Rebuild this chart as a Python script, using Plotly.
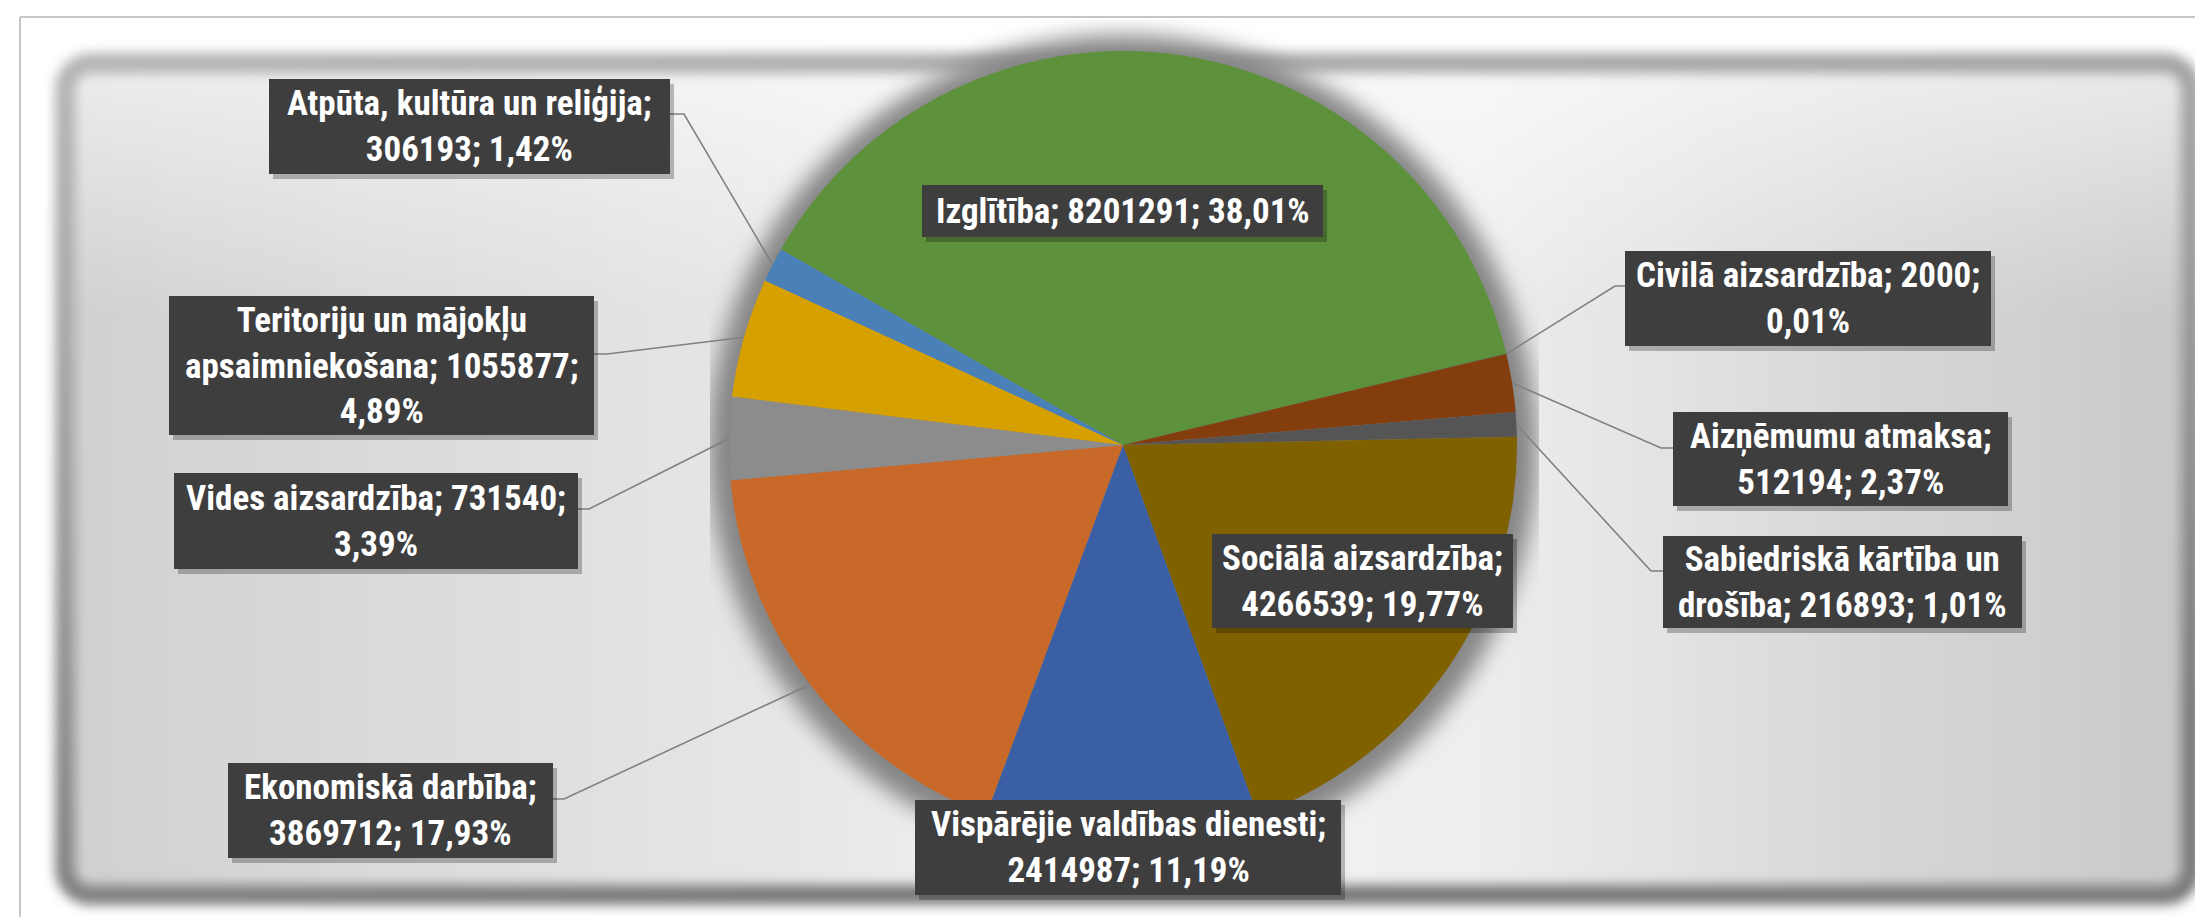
import base64
import math
import plotly.graph_objects as go

# ---------------- data ----------------
categories = [
    "Vispārējie valdības dienesti",
    "Ekonomiskā darbība",
    "Vides aizsardzība",
    "Teritoriju un mājokļu apsaimniekošana",
    "Atpūta, kultūra un reliģija",
    "Izglītība",
    "Civilā aizsardzība",
    "Aizņēmumu atmaksa",
    "Sabiedriskā kārtība un drošība",
    "Sociālā aizsardzība",
]
values = [2414987, 3869712, 731540, 1055877, 306193, 8201291, 2000, 512194, 216893, 4266539]
colors = ["#3A5FA5", "#C8692A", "#8C8C8C", "#D6A100", "#4A80B8",
          "#5E913C", "#203A66", "#843D0C", "#555555", "#806100"]

# ---------------- layout constants (pixels) ----------------
W, H = 2203, 917
CX, CY, R = 1115, 437, 394
ROT = 160
FONT = "Liberation Sans Narrow, Arial Narrow, Roboto Condensed, Lato, sans-serif"
FONT_SIZE = 35

# per-label: words per line, box (x0, y0, x1, y1), leader (y, box side x, elbow x) or None
label_spec = {
    "Vispārējie valdības dienesti": ([3, 2], (907, 792, 1333, 887), None),
    "Ekonomiskā darbība": ([2, 2], (220, 755, 545, 850), (791, 545, 556)),
    "Vides aizsardzība": ([3, 1], (166, 465, 570, 561), (501, 570, 581)),
    "Teritoriju un mājokļu apsaimniekošana": ([3, 2, 1], (161, 288, 586, 427), (346, 586, 599)),
    "Atpūta, kultūra un reliģija": ([4, 2], (261, 71, 662, 166), (106, 662, 676)),
    "Izglītība": ([3], (914, 177, 1315, 229), None),
    "Civilā aizsardzība": ([3, 1], (1617, 243, 1983, 338), (278, 1617, 1607)),
    "Aizņēmumu atmaksa": ([2, 2], (1665, 404, 2000, 498), (440, 1665, 1653)),
    "Sabiedriskā kārtība un drošība": ([3, 3], (1655, 528, 2014, 620), (563, 1655, 1643)),
    "Sociālā aizsardzība": ([2, 2], (1204, 526, 1505, 620), None),
}


def px(x):
    return x / W


def py(y):
    return 1 - y / H


total = sum(values)

# ---------------- background (decorative frame + pie shadow) ----------------
svg = f'''<svg xmlns="http://www.w3.org/2000/svg" width="{W}" height="{H}" viewBox="0 0 {W} {H}">
<defs>
<linearGradient id="frame" x1="0" y1="0" x2="0.35" y2="1">
<stop offset="0" stop-color="#b4b4b4"/><stop offset="0.5" stop-color="#9a9a9a"/><stop offset="1" stop-color="#787878"/>
</linearGradient>
<linearGradient id="inner" x1="0" y1="0" x2="1" y2="0">
<stop offset="0" stop-color="#d0d0d0"/>
<stop offset="0.12" stop-color="#d9d9d9"/>
<stop offset="0.33" stop-color="#e6e6e6"/>
<stop offset="0.5" stop-color="#f5f5f5"/>
<stop offset="0.66" stop-color="#eeeeee"/>
<stop offset="0.86" stop-color="#d6d6d6"/>
<stop offset="1" stop-color="#c9c9c9"/>
</linearGradient>
<linearGradient id="topglow" x1="0" y1="0" x2="0" y2="1">
<stop offset="0" stop-color="#ffffff" stop-opacity="0.6"/>
<stop offset="0.3" stop-color="#ffffff" stop-opacity="0"/>
</linearGradient>
<filter id="b1" x="-5%" y="-10%" width="110%" height="120%"><feGaussianBlur stdDeviation="6"/></filter>
<filter id="b2" x="-5%" y="-10%" width="110%" height="120%"><feGaussianBlur stdDeviation="4"/></filter>
<filter id="b3" x="-15%" y="-15%" width="130%" height="130%"><feGaussianBlur stdDeviation="11"/></filter>
<clipPath id="pa"><rect x="702" y="12" width="829" height="890"/></clipPath>
</defs>
<rect width="{W}" height="{H}" fill="#ffffff"/>
<line x1="12" y1="9" x2="{W}" y2="9" stroke="#c6c6c6" stroke-width="2"/>
<line x1="12" y1="9" x2="12" y2="{H}" stroke="#c6c6c6" stroke-width="2"/>
<rect x="62" y="60" width="2116" height="822" rx="18" fill="url(#inner)" filter="url(#b2)"/>
<rect x="62" y="60" width="2116" height="822" rx="18" fill="url(#topglow)" filter="url(#b2)"/>
<rect x="57" y="55" width="2126" height="832" rx="26" fill="none" stroke="url(#frame)" stroke-width="20" filter="url(#b1)"/>
<g clip-path="url(#pa)"><circle cx="{CX}" cy="{CY + 4}" r="{R + 20}" fill="#858585" filter="url(#b3)"/></g>
</svg>'''
bg_src = "data:image/svg+xml;base64," + base64.b64encode(svg.encode("utf-8")).decode("ascii")

# ---------------- figure ----------------
fig = go.Figure()
fig.add_trace(go.Pie(
    labels=categories,
    values=values,
    sort=False,
    direction="clockwise",
    rotation=ROT,
    marker=dict(colors=colors, line=dict(width=0)),
    textinfo="none",
    hoverinfo="label+value+percent",
    showlegend=False,
    domain=dict(x=[px(CX - R), px(CX + R)], y=[py(CY + R), py(CY - R)]),
))

shapes = []
annotations = []
cum = 0
for name, v in zip(categories, values):
    mid = ROT + 360 * (cum + v / 2) / total
    cum += v
    ex = CX + R * math.sin(math.radians(mid))
    ey = CY - R * math.cos(math.radians(mid))
    counts, (x0, y0, x1, y1), leader = label_spec[name]
    pct = f"{100 * v / total:.2f}".replace(".", ",") + "%"
    words = f"{name}; {v}; {pct}".split(" ")
    lines, i = [], 0
    for c in counts:
        lines.append(" ".join(words[i:i + c]))
        i += c
    text = "<br>".join(lines)

    if leader is not None:
        ly, sx, elx = leader
        shapes.append(dict(type="path", xref="paper", yref="paper",
                           path=f"M {px(sx)} {py(ly)} L {px(elx)} {py(ly)} L {px(ex)} {py(ey)}",
                           line=dict(color="#808080", width=1.6), layer="above"))
    # shadow
    shapes.append(dict(type="rect", xref="paper", yref="paper",
                       x0=px(x0 + 4), x1=px(x1 + 4), y0=py(y1 + 5), y1=py(y0 + 5),
                       fillcolor="rgba(0,0,0,0.25)", line=dict(width=0), layer="above"))
    shapes.append(dict(type="rect", xref="paper", yref="paper",
                       x0=px(x0), x1=px(x1), y0=py(y1), y1=py(y0),
                       fillcolor="#3e3e3e", line=dict(width=0), layer="above"))
    annotations.append(dict(xref="paper", yref="paper", x=px((x0 + x1) / 2), y=py((y0 + y1) / 2),
                            text=f"<b>{text}</b>", showarrow=False, align="center",
                            xanchor="center", yanchor="middle",
                            font=dict(family=FONT, size=FONT_SIZE, color="#ffffff")))

fig.update_layout(
    width=W, height=H,
    margin=dict(l=0, r=0, t=0, b=0),
    paper_bgcolor="#ffffff",
    plot_bgcolor="#ffffff",
    shapes=shapes,
    annotations=annotations,
    images=[dict(source=bg_src, xref="paper", yref="paper", x=0, y=1, sizex=1, sizey=1,
                 xanchor="left", yanchor="top", sizing="stretch", layer="below")],
)

fig.write_html("out.html")
